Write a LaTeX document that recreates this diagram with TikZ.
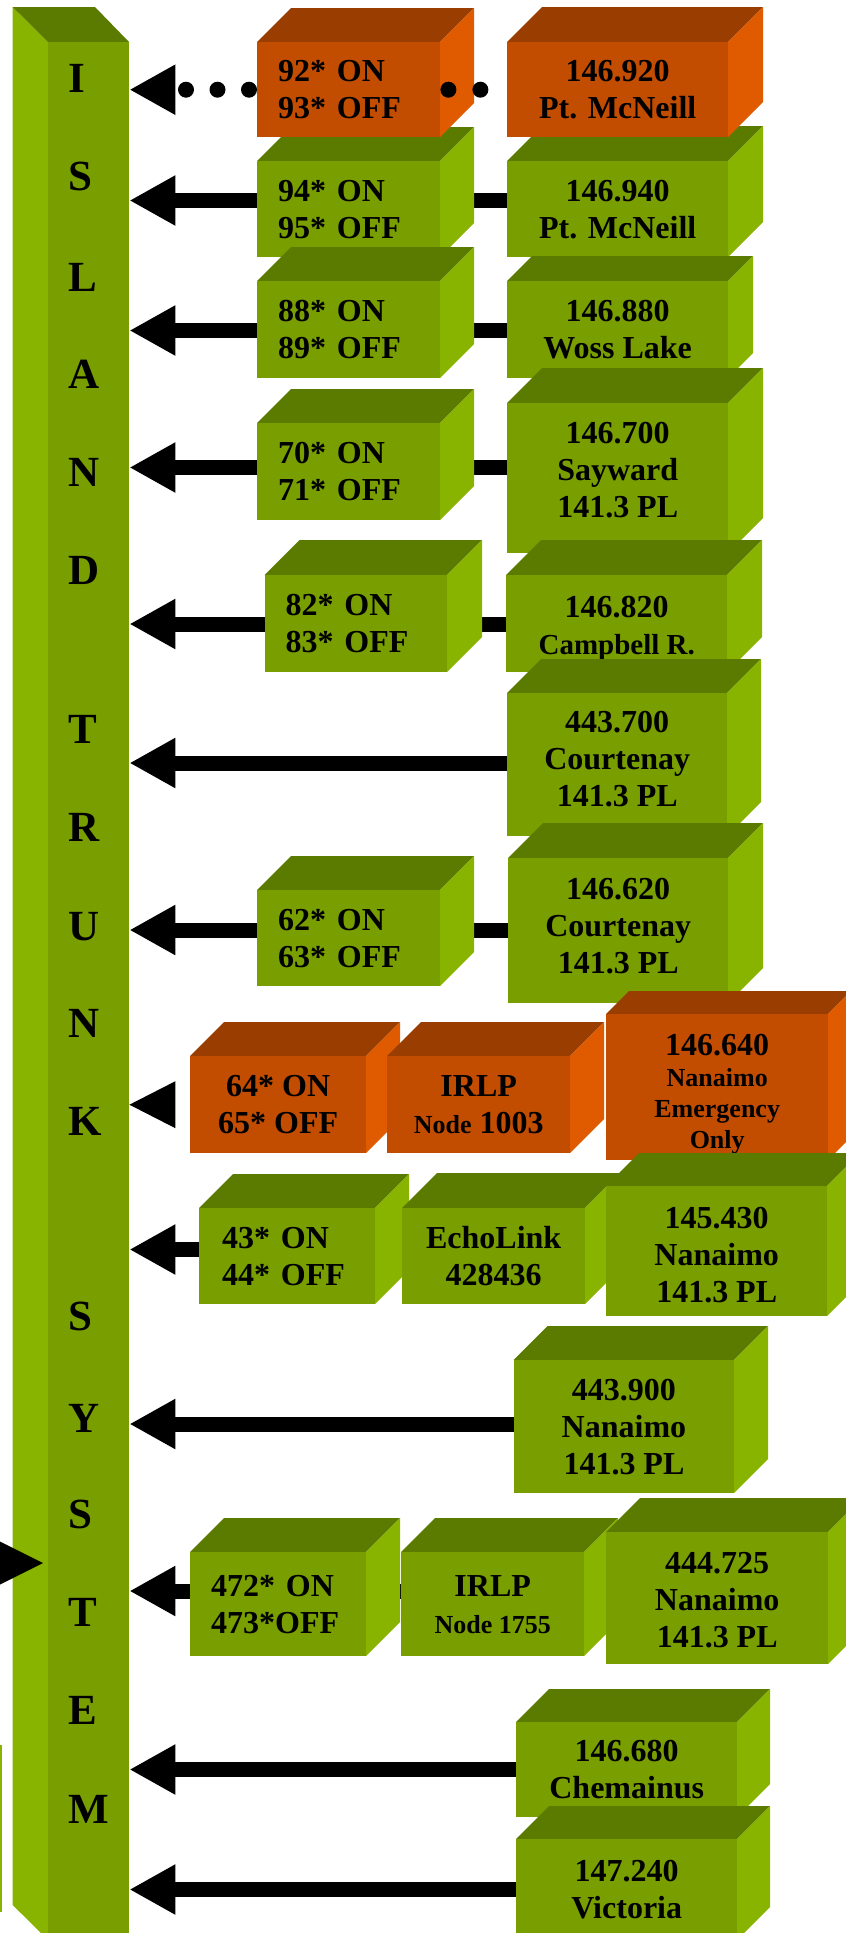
\documentclass[tikz,border=0pt]{standalone}
\usepackage{fontspec}
\setmainfont{Liberation Serif}
\usetikzlibrary{arrows.meta}
\definecolor{gF}{HTML}{789E00}
\definecolor{gT}{HTML}{5B7A00}
\definecolor{gS}{HTML}{88B400}
\definecolor{oF}{HTML}{C24D00}
\definecolor{oT}{HTML}{993D00}
\definecolor{oS}{HTML}{E05A00}
\pgfdeclarelayer{bg}
\pgfsetlayers{bg,main}
% #1 name, #2 scheme (g/o), #3 x1, #4 y1, #5 x2, #6 y2, #7 depth, #8 text, #9 extra node style
\newcommand\cub[9]{%
  \fill[#2T] (#3,#4) -- (#3+#7,#4-#7) -- (#5+#7,#4-#7) -- (#5,#4) -- cycle;
  \fill[#2S] (#5,#4) -- (#5+#7,#4-#7) -- (#5+#7,#6-#7) -- (#5,#6) -- cycle;
  \node[face, fill=#2F, minimum width={(#5-#3)*1pt}, minimum height={(#6-#4)*1pt},
        anchor=north west, #9] (#1) at (#3,#4) {#8};
}
\newcommand\upby[1]{\rule[-#1]{0pt}{#1}}
\newcommand\downby[1]{\rule{0pt}{#1}}
\begin{document}
\begin{tikzpicture}[x=1pt,y=-1pt,
  face/.style={inner sep=0pt, align=center, font=\bfseries\fontsize{32}{37}\selectfont},
  onoff/.style={align=left, inner xsep=21pt},
  conn/.style={line width=15pt, -{Triangle[length=46pt,width=47pt]}},
  dots/.style={line width=16pt, line cap=round, dash pattern=on 0pt off 31.5pt},
  letter/.style={font=\bfseries\fontsize{43}{43}\selectfont, anchor=base west, inner sep=0pt}]
\useasboundingbox (0,0) rectangle (846,1933);
\clip (0,0) rectangle (846,1933);

% trunk
\fill[gS] (12.7,7) -- (48,42) -- (48,1940) -- (12.7,1905) -- cycle;
\fill[gT] (12.7,7) -- (95,7) -- (129,42) -- (48,42) -- cycle;
\node[fill=gF, inner sep=0pt, minimum width=81pt, minimum height=1898pt, anchor=north west] (trunk) at (48,42) {};
\foreach \l/\y in {I/92, S/190, L/291, A/388, N/486, D/584, T/743, R/841, U/940,
                   N/1037, K/1135, S/1330, Y/1432, S/1528, T/1626, E/1724, M/1823}
  \node[letter] (L\y) at (68,\y) {\l};

% left edge remnants
\fill[gS] (-2,1745) rectangle (2,1912);
\fill (43,1563) -- (-4,1539.5) -- (-4,1586.5) -- cycle;

% row 2 (drawn before row 1)
\cub{A2}{g}{257}{161}{440}{257}{34}{94* ON\\95* OFF}{onoff, text width=141pt}
\cub{B2}{g}{507}{161}{728}{257}{35}{146.940\\Pt. McNeill}{}
% row 1
\cub{A1}{o}{257}{42}{440}{137}{34}{92* ON\\93* OFF}{onoff, text width=141pt}
\cub{B1}{o}{507}{42}{728}{137}{35}{146.920\\Pt. McNeill}{}
% row 3
\cub{A3}{g}{257}{281}{440}{378}{34}{88* ON\\89* OFF}{onoff, text width=141pt}
\cub{B3}{g}{507}{281}{728}{378}{25}{146.880\\Woss Lake}{}
% row 4
\cub{A4}{g}{257}{423}{440}{520}{34}{70* ON\\71* OFF}{onoff, text width=141pt}
\cub{B4}{g}{507}{403}{728}{553}{35}{146.700\\Sayward\\141.3 PL\upby{17pt}}{}
% row 5
\cub{A5}{g}{264.5}{575}{447}{672}{35}{82* ON\\83* OFF}{onoff, text width=140.5pt}
\cub{B5}{g}{506}{575}{727}{672}{35}{\downby{30pt}146.820\\{\fontsize{29}{37}\selectfont Campbell R.}}{}
% row 6
\cub{B6}{g}{507}{693}{727}{836}{34}{443.700\\Courtenay\\141.3 PL\upby{12pt}}{}
% row 7
\cub{A7}{g}{257}{890}{440}{986}{34}{62* ON\\63* OFF}{onoff, text width=141pt}
\cub{B7}{g}{508}{858}{728}{1003}{35}{146.620\\Courtenay\\141.3 PL\upby{10pt}}{}
% row 8
\cub{A8}{o}{190}{1056}{366}{1153}{34}{64* ON\\65* OFF}{}
\cub{B8}{o}{387}{1056}{570}{1153}{34}{IRLP\\{\fontsize{26}{37}\selectfont Node} 1003}{}
\cub{C8}{o}{606}{1014}{828}{1160}{23}{{\fontsize{32}{37}\selectfont\downby{36pt}146.640}\\Nanaimo\\Emergency\\Only}{font=\bfseries\fontsize{26}{31}\selectfont}
% row 9
\cub{A9}{g}{199}{1208}{375}{1304}{34}{43* ON\\44* OFF}{onoff, inner xsep=23pt, text width=130pt}
\cub{B9}{g}{402}{1208}{585}{1304}{35}{EchoLink\\428436}{}
\cub{C9}{g}{606}{1186}{827}{1316}{33}{\downby{30pt}145.430\\Nanaimo\\141.3 PL}{}
% row 10
\cub{B10}{g}{513.5}{1360}{734}{1493}{34}{443.900\\Nanaimo\\141.3 PL}{}
% row 11
\cub{A11}{g}{190}{1552}{366}{1656}{34}{472* ON\\473*OFF}{onoff, text width=134pt}
\cub{B11}{g}{401}{1552}{584}{1656}{34}{IRLP\\{\fontsize{26}{37}\selectfont Node 1755}}{}
\cub{C11}{g}{606}{1532}{828}{1664}{34}{\downby{26pt}444.725\\Nanaimo\\141.3 PL}{}
% row 12
\cub{B12}{g}{516}{1722}{737}{1817}{33}{146.680\\Chemainus}{}
% row 13
\cub{B13}{g}{516}{1839}{737}{1940}{33}{147.240\\Victoria}{}

% connectors (behind the boxes)
\begin{pgfonlayer}{bg}
\draw[conn] (B2.west |- 0,200.5) -- (trunk.east |- 0,200.5);
\draw[conn] (B3.west |- 0,330.5) -- (trunk.east |- 0,330.5);
\draw[conn] (B4.west |- 0,467.5) -- (trunk.east |- 0,467.5);
\draw[conn] (B5.west |- 0,624) -- (trunk.east |- 0,624);
\draw[conn] (B6.west |- 0,763) -- (trunk.east |- 0,763);
\draw[conn] (B7.west |- 0,930) -- (trunk.east |- 0,930);
\draw[conn] (C9.west |- 0,1249.5) -- (trunk.east |- 0,1249.5);
\draw[conn] (B10.west |- 0,1424) -- (trunk.east |- 0,1424);
\draw[conn] (C11.west |- 0,1591) -- (trunk.east |- 0,1591);
\draw[conn] (B12.west |- 0,1769.5) -- (trunk.east |- 0,1769.5);
\draw[conn] (B13.west |- 0,1889.5) -- (trunk.east |- 0,1889.5);
\end{pgfonlayer}
% row 8: head only
\fill (trunk.east |- A8.west) -- ++(46,-23.5) -- ++(0,47) -- cycle;
% row 1 dotted
\draw[dots, -{Triangle[length=46pt,width=47pt]}] ([xshift=-8pt]A1.west) -- (trunk.east |- A1.west);
\draw[dots, dash pattern=on 0pt off 32pt] ([xshift=8pt]A1.east) -- ([xshift=-26pt]B1.west);
\end{tikzpicture}
\end{document}
